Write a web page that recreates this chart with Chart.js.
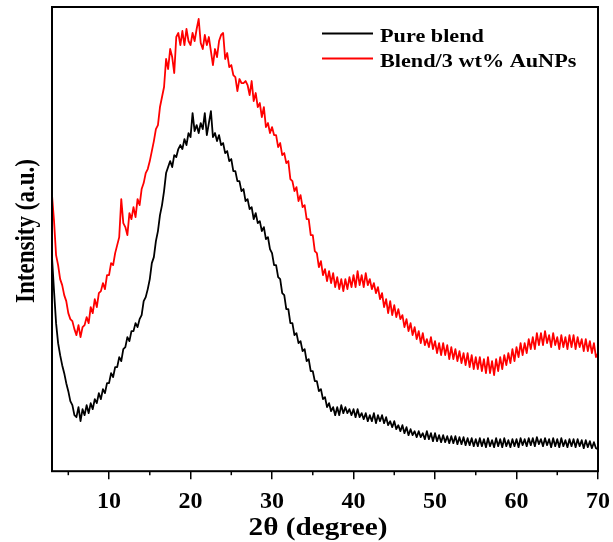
<!DOCTYPE html>
<html>
<head>
<meta charset="utf-8">
<script src="https://cdn.jsdelivr.net/npm/chart.js@4.4.1/dist/chart.umd.min.js"></script>
<style>
  html, body { margin: 0; padding: 0; background: #fff; }
</style>
</head>
<body>
<canvas id="xrd" width="613" height="542"></canvas>
<script>
// 2θ sampling (degree), every 0.25°
const twoTheta = [
  3,3.25,3.5,3.75, 4,4.25,4.5,4.75, 5,5.25,5.5,5.75, 6,6.25,6.5,6.75, 7,7.25,7.5,7.75,
  8,8.25,8.5,8.75, 9,9.25,9.5,9.75, 10,10.25,10.5,10.75, 11,11.25,11.5,11.75, 12,12.25,12.5,12.75,
  13,13.25,13.5,13.75, 14,14.25,14.5,14.75, 15,15.25,15.5,15.75, 16,16.25,16.5,16.75, 17,17.25,17.5,17.75,
  18,18.25,18.5,18.75, 19,19.25,19.5,19.75, 20,20.25,20.5,20.75, 21,21.25,21.5,21.75, 22,22.25,22.5,22.75,
  23,23.25,23.5,23.75, 24,24.25,24.5,24.75, 25,25.25,25.5,25.75, 26,26.25,26.5,26.75, 27,27.25,27.5,27.75,
  28,28.25,28.5,28.75, 29,29.25,29.5,29.75, 30,30.25,30.5,30.75, 31,31.25,31.5,31.75, 32,32.25,32.5,32.75,
  33,33.25,33.5,33.75, 34,34.25,34.5,34.75, 35,35.25,35.5,35.75, 36,36.25,36.5,36.75, 37,37.25,37.5,37.75,
  38,38.25,38.5,38.75, 39,39.25,39.5,39.75, 40,40.25,40.5,40.75, 41,41.25,41.5,41.75, 42,42.25,42.5,42.75,
  43,43.25,43.5,43.75, 44,44.25,44.5,44.75, 45,45.25,45.5,45.75, 46,46.25,46.5,46.75, 47,47.25,47.5,47.75,
  48,48.25,48.5,48.75, 49,49.25,49.5,49.75, 50,50.25,50.5,50.75, 51,51.25,51.5,51.75, 52,52.25,52.5,52.75,
  53,53.25,53.5,53.75, 54,54.25,54.5,54.75, 55,55.25,55.5,55.75, 56,56.25,56.5,56.75, 57,57.25,57.5,57.75,
  58,58.25,58.5,58.75, 59,59.25,59.5,59.75, 60,60.25,60.5,60.75, 61,61.25,61.5,61.75, 62,62.25,62.5,62.75,
  63,63.25,63.5,63.75, 64,64.25,64.5,64.75, 65,65.25,65.5,65.75, 66,66.25,66.5,66.75, 67,67.25,67.5,67.75,
  68,68.25,68.5,68.75, 69,69.25,69.5,69.75, 70
];

// intensity (a.u.), pure blend
const pureBlend = [
  214,180,148,128, 116,106,98,88, 80,70,66,56, 54,64,50,62, 56,66,58,68,
  62,72,68,78, 72,82,78,88, 88,98,94,104, 104,114,110,122, 124,134,130,140,
  140,148,144,152, 156,170,174,182, 192,208,214,230, 240,256,266,280, 298,304,310,304,
  316,314,322,326, 322,332,326,338, 334,358,340,346, 338,348,342,358, 336,348,360,334,
  338,330,336,326, 328,318,320,310, 312,300,300,290, 290,280,282,270, 272,262,264,252,
  258,248,250,240, 244,232,234,222, 218,206,206,194, 192,178,176,162, 162,148,148,136,
  138,128,130,120, 122,110,112,100, 100,90,90,80, 82,72,74,64, 68,60,64,56,
  64,56,66,58, 64,58,62,56, 62,54,62,54, 58,52,58,50, 56,50,58,48,
  56,50,56,48, 54,46,50,44, 50,42,46,40, 46,38,44,36, 42,36,40,34,
  40,34,38,32, 40,32,38,30, 38,30,36,29, 36,29,35,28, 35,28,35,27,
  34,27,34,26, 33,26,33,25, 32,25,33,25, 32,24,33,25, 31,24,33,25,
  32,24,33,25, 31,24,32,25, 32,24,33,26, 32,25,33,26, 33,25,34,27,
  32,25,33,26, 32,24,33,25, 32,24,33,25, 31,24,32,25, 32,24,32,25,
  31,23,31,24, 30,23,29,23, 22
];

// intensity (a.u.), blend with 3 wt% AuNPs
const blendAuNPs = [
  276,250,216,206, 192,186,176,170, 158,152,150,142, 136,146,134,144, 146,154,148,164,
  158,172,164,178, 180,188,182,196, 196,208,206,218, 226,234,272,248, 244,236,258,252,
  264,254,272,266, 282,288,298,302, 310,320,330,342, 346,364,374,384, 412,402,422,414,
  398,434,438,426, 440,426,442,430, 426,438,430,442, 452,428,422,436, 426,434,420,406,
  422,414,430,436, 438,412,418,404, 406,396,394,380, 392,388,388,390, 386,376,390,370,
  378,364,368,354, 364,344,348,338, 344,336,336,324, 328,316,318,308, 310,292,290,280,
  284,270,276,264, 266,252,252,236, 236,220,218,204, 210,196,202,190, 200,188,198,184,
  194,182,192,180, 192,182,194,184, 196,184,200,186, 196,184,198,186, 192,182,188,178,
  184,172,178,164, 172,158,170,156, 166,154,162,152, 156,144,152,140, 148,136,144,132,
  140,128,138,126, 132,124,134,122, 130,118,128,116, 128,116,126,112, 124,112,122,110,
  120,108,118,106, 118,104,116,102, 114,102,114,100, 112,98,114,98, 110,96,112,100,
  114,102,116,106, 118,108,122,110, 124,114,128,116, 128,118,132,122, 134,122,138,126,
  138,126,140,128, 136,124,138,126, 134,122,136,124, 134,122,136,124, 136,122,134,124,
  132,120,132,120, 130,118,128,114, 118
];

const seriesNames = ['Pure blend', 'Blend/3 wt% AuNPs'];
const seriesColors = ['#000000', '#ff0000'];
const xMajorTicks = [10, 20, 30, 40, 50, 60, 70];
const xMinorTicks = [5, 15, 25, 35, 45, 55, 65];
const xTitle = '2θ (degree)';
const yTitle = 'Intensity (a.u.)';

const serif = "'Liberation Serif', 'Times New Roman', serif";
const stretch = 1.17; // the original figure is a bit wider than tall

function toPoints(values) {
  return values.map((v, i) => ({ x: twoTheta[i], y: v }));
}

function wideText(ctx, text, x, y) {
  ctx.save();
  ctx.translate(x, y);
  ctx.scale(stretch, 1);
  ctx.fillText(text, 0, 0);
  ctx.restore();
}

const frameAndLabels = {
  id: 'frameAndLabels',
  afterDraw(chart) {
    const { ctx, chartArea: a, scales: { x } } = chart;
    ctx.save();
    ctx.strokeStyle = '#000';
    ctx.lineWidth = 2;
    ctx.strokeRect(a.left, a.top, a.right - a.left, a.bottom - a.top);

    // short minor ticks under the axis
    ctx.lineWidth = 1.5;
    xMinorTicks.forEach(v => {
      const px = x.getPixelForValue(v);
      ctx.beginPath();
      ctx.moveTo(px, a.bottom);
      ctx.lineTo(px, a.bottom + 4);
      ctx.stroke();
    });

    // axis titles
    ctx.fillStyle = '#000';
    ctx.textAlign = 'center';
    ctx.textBaseline = 'alphabetic';
    ctx.font = 'bold 25px ' + serif;
    wideText(ctx, xTitle, 318, 535);

    ctx.save();
    ctx.translate(27, 231);
    ctx.scale(stretch, 1);
    ctx.rotate(-Math.PI / 2);
    ctx.textBaseline = 'middle';
    ctx.font = 'bold 23px ' + serif;
    ctx.fillText(yTitle, 0, 0);
    ctx.restore();

    // legend
    ctx.textAlign = 'left';
    ctx.font = 'bold 19px ' + serif;
    seriesNames.forEach((name, i) => {
      const y = 33.5 + i * 25;
      ctx.strokeStyle = seriesColors[i];
      ctx.lineWidth = 2;
      ctx.beginPath();
      ctx.moveTo(322, y);
      ctx.lineTo(373, y);
      ctx.stroke();
      wideText(ctx, name, 380, y + 8.5);
    });
    ctx.restore();
  }
};

new Chart(document.getElementById('xrd'), {
  type: 'line',
  data: {
    datasets: [
      { label: seriesNames[0], data: toPoints(pureBlend), borderColor: seriesColors[0] },
      { label: seriesNames[1], data: toPoints(blendAuNPs), borderColor: seriesColors[1] }
    ]
  },
  options: {
    responsive: false,
    animation: false,
    layout: { padding: { left: 52, right: 15, top: 7, bottom: 18 } },
    elements: {
      point: { radius: 0 },
      line: { borderWidth: 1.8, tension: 0, borderJoinStyle: 'round' }
    },
    plugins: { legend: { display: false }, tooltip: { enabled: false } },
    scales: {
      x: {
        type: 'linear',
        min: 3,
        max: 70,
        afterBuildTicks: s => { s.ticks = xMajorTicks.map(v => ({ value: v })); },
        afterFit: s => { s.paddingLeft = 0; s.paddingRight = 0; },
        border: { display: false },
        grid: { drawOnChartArea: false, drawTicks: true, tickLength: 8, color: '#000', lineWidth: 1.5 },
        ticks: {
          autoSkip: false,
          maxRotation: 0,
          padding: 8,
          color: '#000',
          font: { family: serif, size: 24, weight: 'bold' }
        }
      },
      y: { display: false, min: 0, max: 464 }
    }
  },
  plugins: [frameAndLabels]
});
</script>
</body>
</html>
